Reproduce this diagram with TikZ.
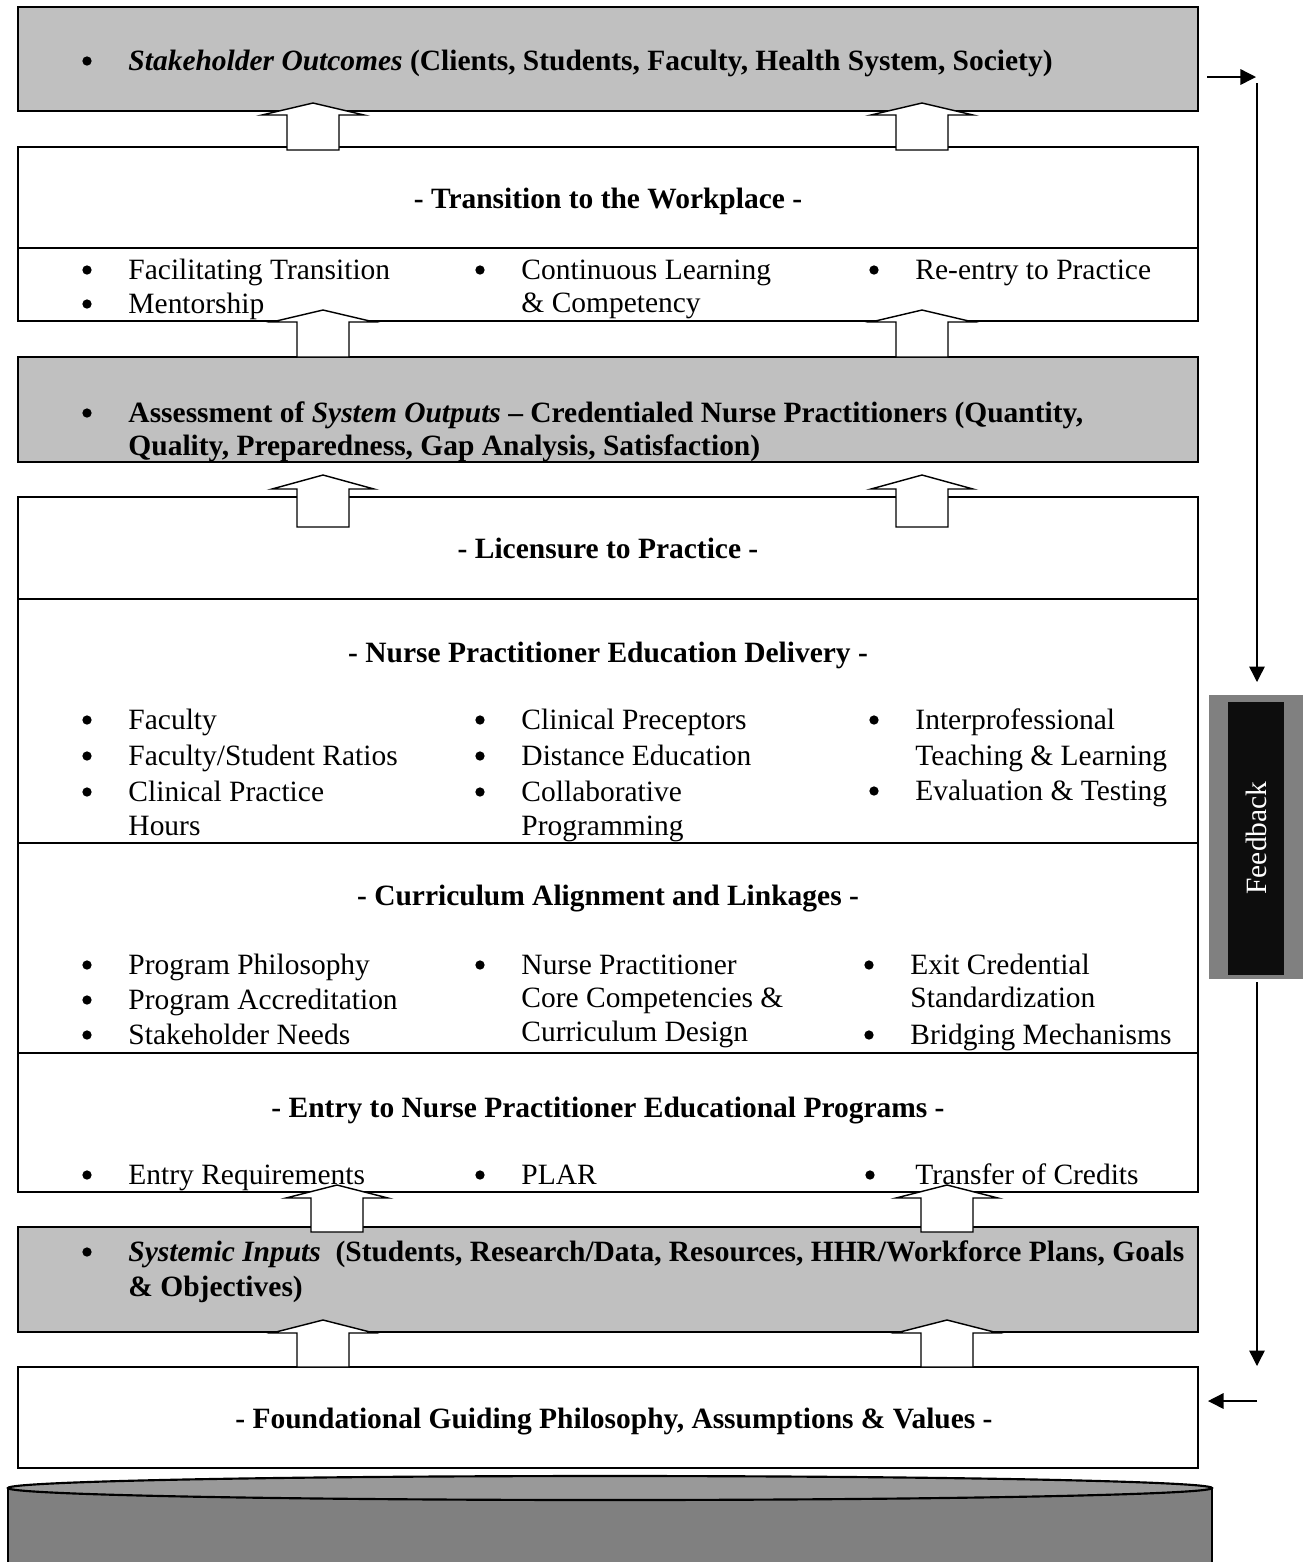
\documentclass[tikz,border=0pt]{standalone}
\usepackage{fontspec}
\setmainfont{Liberation Serif}
\usetikzlibrary{arrows.meta}
\definecolor{boxgray}{HTML}{C0C0C0}
\definecolor{fbouter}{HTML}{808080}
\definecolor{fbinner}{HTML}{0D0D0D}
\definecolor{cylside}{HTML}{808080}
\definecolor{cyltop}{HTML}{999999}
\newcommand\blockup[4]{%
  \draw[blockarrow] (#1-26,#4) -- (#1-26,#3) -- (#1-51,#3) -- (#1,#2) -- (#1+51,#3) -- (#1+26,#3) -- (#1+26,#4) -- cycle;}
\newcommand\bitem[4]{%
  \node[bul] (#1-b) at (#2-41,#3-9) {};
  \node[itm] (#1) at (#2,#3) {#4};}
\newcommand\citem[4]{%
  \node[itm] (#1) at (#2,#3) {#4};}
\begin{document}
\begin{tikzpicture}[x=0.4191pt,y=-0.4191pt,
  frame/.style={draw=black,line width=0.9pt},
  itm/.style={anchor=base west,inner sep=0pt,font=\fontsize{12.35}{15.1}\selectfont},
  bul/.style={circle,fill=black,inner sep=0pt,minimum size=3.9pt},
  head/.style={anchor=base,inner sep=0pt,font=\fontsize{12.35}{15.1}\selectfont\bfseries},
  blockarrow/.style={draw=black,fill=white,line width=0.6pt,line join=miter},
  fbline/.style={draw=black,line width=0.6pt},
  fbtip/.style={-{Triangle[length=6.5pt,width=6.5pt]}},
]
\useasboundingbox (0,0) rectangle (1308,1562);

% boxes
\draw[frame,fill=boxgray] (18,7) rectangle (1198,111);
\draw[frame] (18,147) rectangle (1198,321);
\draw[frame] (18,248) -- (1198,248);
\draw[frame,fill=boxgray] (18,357) rectangle (1198,462);
\draw[frame] (18,497) rectangle (1198,1192);
\draw[frame] (18,599) -- (1198,599);
\draw[frame] (18,843) -- (1198,843);
\draw[frame] (18,1053) -- (1198,1053);
\draw[frame,fill=boxgray] (18,1227) rectangle (1198,1332);
\draw[frame] (18,1367) rectangle (1198,1468);

% cylinder
\fill[cylside] (8,1488) rectangle (1212,1562);
\draw[line width=0.6pt] (8,1488) -- (8,1562) (1212,1488) -- (1212,1562);
\draw[fill=cyltop,line width=0.9pt] (610,1488) ellipse [x radius=602, y radius=12];

% block arrows
\blockup{313}{103}{115}{150}
\blockup{922}{103}{115}{150}
\blockup{323}{310}{322}{357}
\blockup{922}{310}{322}{357}
\blockup{323}{475}{489}{527}
\blockup{922}{475}{489}{527}
\blockup{337}{1185}{1198}{1232}
\blockup{947}{1185}{1198}{1232}
\blockup{323}{1320}{1333}{1367}
\blockup{947}{1320}{1333}{1367}

% feedback loop
\fill[fbouter] (1209,695) rectangle (1303,979);
\node[fill=fbinner,text=white,rotate=90,minimum width=273*0.4191pt,minimum height=56*0.4191pt,inner sep=0pt,font=\fontsize{12.35}{15.1}\selectfont] (fb) at (1256,838) {Feedback};
\coordinate (outE) at (1207,77);
\coordinate (outT) at (1256,77);
\coordinate (downS) at (1257,83);
\coordinate (fbIn) at (1257,682);
\coordinate (fbOut) at (1257,982);
\coordinate (foundIn) at (1257,1366);
\coordinate (leftS) at (1257,1401);
\coordinate (foundE) at (1208,1401);
\draw[fbline,fbtip] (outE) -- (outT);
\draw[fbline,fbtip] (downS) -- (fbIn);
\draw[fbline,fbtip] (fbOut) -- (foundIn);
\draw[fbline,fbtip] (leftS) -- (foundE);

% texts
\bitem{so}{128}{70}{\textbf{\textit{Stakeholder Outcomes}} \textbf{(Clients, Students, Faculty, Health System, Society)}}

\node[head] (tw) at (608,208) {- Transition to the Workplace -};
\bitem{ft}{128}{279}{Facilitating Transition}
\bitem{me}{128}{313}{Mentorship}
\bitem{cl}{521}{279}{Continuous Learning}
\citem{cl2}{521}{312}{\& Competency}
\bitem{re}{915}{279}{Re-entry to Practice}

\bitem{as}{128}{422}{\textbf{Assessment of \textit{System Outputs} – Credentialed Nurse Practitioners (Quantity,}}
\citem{as2}{128}{455}{\textbf{Quality, Preparedness, Gap Analysis, Satisfaction)}}

\node[head] (lp) at (608,558) {- Licensure to Practice -};

\node[head] (ned) at (608,662) {- Nurse Practitioner Education Delivery -};
\bitem{fa}{128}{729}{Faculty}
\bitem{fs}{128}{765}{Faculty/Student Ratios}
\bitem{cp}{128}{801}{Clinical Practice}
\citem{cp2}{128}{835}{Hours}
\bitem{pr}{521}{729}{Clinical Preceptors}
\bitem{de}{521}{765}{Distance Education}
\bitem{co}{521}{801}{Collaborative}
\citem{co2}{521}{835}{Programming}
\bitem{ip}{915}{729}{Interprofessional}
\citem{ip2}{915}{765}{Teaching \& Learning}
\bitem{ev}{915}{800}{Evaluation \& Testing}

\node[head] (cal) at (608,905) {- Curriculum Alignment and Linkages -};
\bitem{pp}{128}{974}{Program Philosophy}
\bitem{pa}{128}{1009}{Program Accreditation}
\bitem{sn}{128}{1044}{Stakeholder Needs}
\bitem{np}{521}{974}{Nurse Practitioner}
\citem{np2}{521}{1007}{Core Competencies \&}
\citem{np3}{521}{1041}{Curriculum Design}
\bitem{ec}{910}{974}{Exit Credential}
\citem{ec2}{910}{1007}{Standardization}
\bitem{bm}{910}{1044}{Bridging Mechanisms}

\node[head] (ent) at (608,1117) {- Entry to Nurse Practitioner Educational Programs -};
\bitem{er}{128}{1184}{Entry Requirements}
\bitem{pl}{521}{1184}{PLAR}
\node[bul] (tc-b) at (870,1175) {};
\node[itm] (tc) at (915,1184) {Transfer of Credits};

\bitem{si}{128}{1261}{\textbf{\textit{Systemic Inputs}}\ \ \textbf{(Students, Research/Data, Resources, HHR/Workforce Plans, Goals}}
\citem{si2}{128}{1296}{\textbf{\& Objectives)}}

\node[head] (fg) at (614,1428) {- Foundational Guiding Philosophy, Assumptions \& Values -};
\end{tikzpicture}
\end{document}
